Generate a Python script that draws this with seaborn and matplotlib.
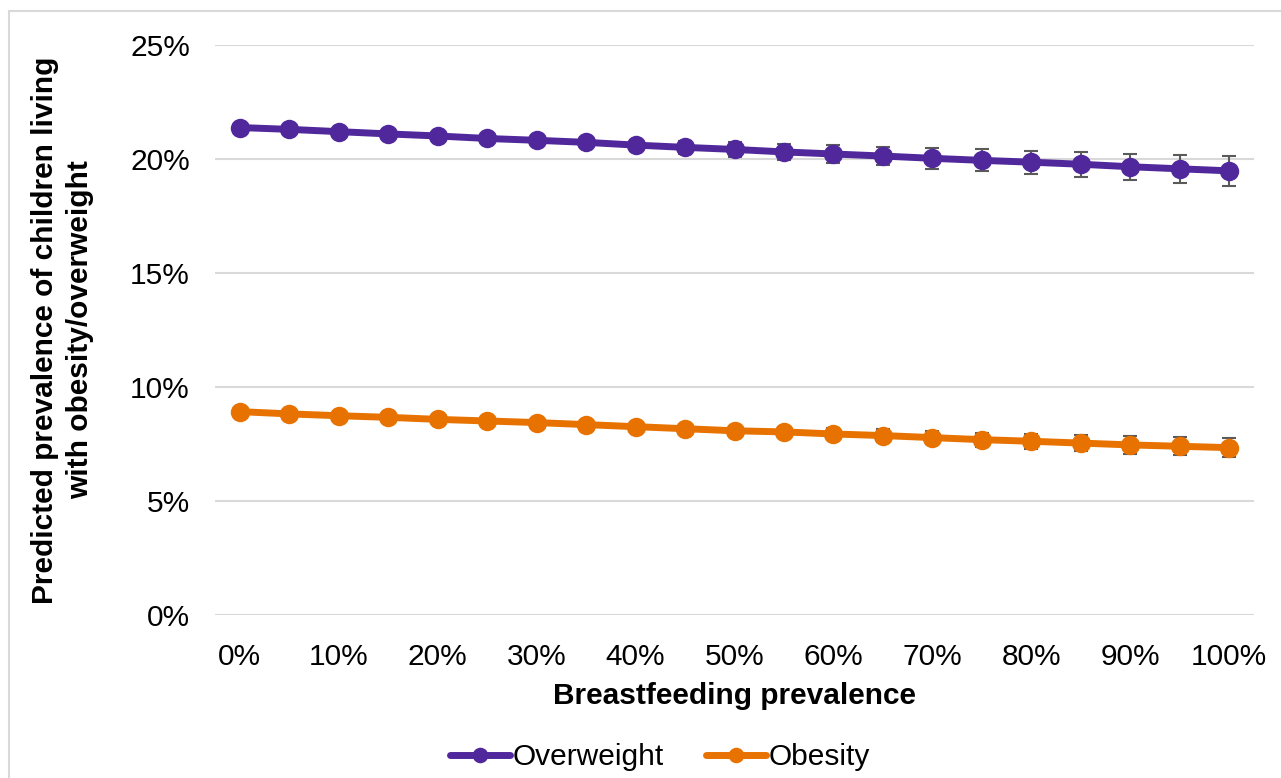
import matplotlib
matplotlib.use("Agg")
import matplotlib.pyplot as plt
from matplotlib.patches import Rectangle
from matplotlib.ticker import FuncFormatter
import numpy as np
import pandas as pd
import seaborn as sns

# Breastfeeding prevalence levels (%)
breastfeeding = [0, 5, 10, 15, 20, 25, 30, 35, 40, 45, 50,
                 55, 60, 65, 70, 75, 80, 85, 90, 95, 100]
x_labels = [f"{v}%" if v % 10 == 0 else "" for v in breastfeeding]

# Predicted prevalence (%) and error half-widths
overweight = [21.38, 21.30, 21.20, 21.10, 21.01, 20.90, 20.82, 20.73, 20.61, 20.51, 20.42,
              20.31, 20.22, 20.13, 20.03, 19.94, 19.86, 19.77, 19.66, 19.57, 19.48]
overweight_err = [0.00, 0.03, 0.06, 0.09, 0.12, 0.15, 0.18, 0.21, 0.24, 0.28, 0.32,
                  0.34, 0.38, 0.41, 0.45, 0.48, 0.51, 0.55, 0.58, 0.62, 0.66]
obesity = [8.92, 8.82, 8.74, 8.67, 8.58, 8.51, 8.44, 8.35, 8.26, 8.17, 8.08,
           8.03, 7.94, 7.87, 7.78, 7.69, 7.62, 7.54, 7.46, 7.40, 7.34]
obesity_err = [0.00, 0.02, 0.04, 0.06, 0.08, 0.10, 0.12, 0.14, 0.16, 0.18, 0.21,
               0.23, 0.25, 0.27, 0.29, 0.31, 0.33, 0.35, 0.38, 0.40, 0.41]

y_ticks = [0, 5, 10, 15, 20, 25]

series_colors = {"Overweight": "#50289C", "Obesity": "#E87200"}
err_color = "#5A5A5A"
FS = 21.5

sns.set_theme(style="white")
plt.rcParams["font.family"] = ["Liberation Sans", "DejaVu Sans"]
plt.rcParams["text.color"] = "black"
plt.rcParams["axes.labelcolor"] = "black"

pos = np.arange(len(breastfeeding))
df = pd.concat([
    pd.DataFrame({"pos": pos, "value": overweight, "series": "Overweight"}),
    pd.DataFrame({"pos": pos, "value": obesity, "series": "Obesity"}),
])

fig = plt.figure(figsize=(12.81, 7.78), dpi=100)
ax = fig.add_axes([215 / 1281, 1 - 615 / 778, (1254 - 215) / 1281, (615 - 45) / 778])

# outer chart border
fig.patches.append(Rectangle((9 / 1281, -0.1), 1.2, 1.1 - 11 / 778,
                             transform=fig.transFigure, fill=False,
                             edgecolor="#D9D9D9", linewidth=1.5, zorder=0))

# error bars underneath the lines
for vals, errs in [(overweight, overweight_err), (obesity, obesity_err)]:
    ax.errorbar(pos, vals, yerr=errs, fmt="none", ecolor=err_color,
                elinewidth=1.5, capsize=5, capthick=1.5, zorder=2)

sns.lineplot(data=df, x="pos", y="value", hue="series", palette=series_colors,
             marker="o", markersize=14, markeredgewidth=0, linewidth=5,
             ax=ax, zorder=3)

ax.set_xlim(-0.5, len(breastfeeding) - 0.5)
ax.set_ylim(0, 25)
ax.set_yticks(y_ticks)
ax.yaxis.set_major_formatter(FuncFormatter(lambda v, p: f"{v:.0f}%"))
ax.set_xticks(pos)
ax.set_xticklabels(x_labels)
ax.tick_params(axis="both", labelsize=FS, colors="black", length=0)
ax.tick_params(axis="x", pad=20)
ax.tick_params(axis="y", pad=18)
ax.grid(axis="y", color="#D9D9D9", linewidth=1.5)
ax.set_axisbelow(True)
for s in ax.spines.values():
    s.set_visible(False)

ax.set_xlabel("Breastfeeding prevalence", fontsize=FS, fontweight="bold", labelpad=8)
ax.set_ylabel("Predicted prevalence of children living\nwith obesity/overweight",
              fontsize=FS, fontweight="bold", labelpad=26, linespacing=1.3)

handles, labels = ax.get_legend_handles_labels()
ax.legend_.remove()
fig.legend(handles, labels, loc="center", bbox_to_anchor=(660 / 1281, 1 - 757 / 778),
           ncol=2, frameon=False, fontsize=FS, handlelength=2.0, markerscale=0.8,
           handletextpad=0.1, columnspacing=1.4)

fig.savefig("out.png", dpi=100)
